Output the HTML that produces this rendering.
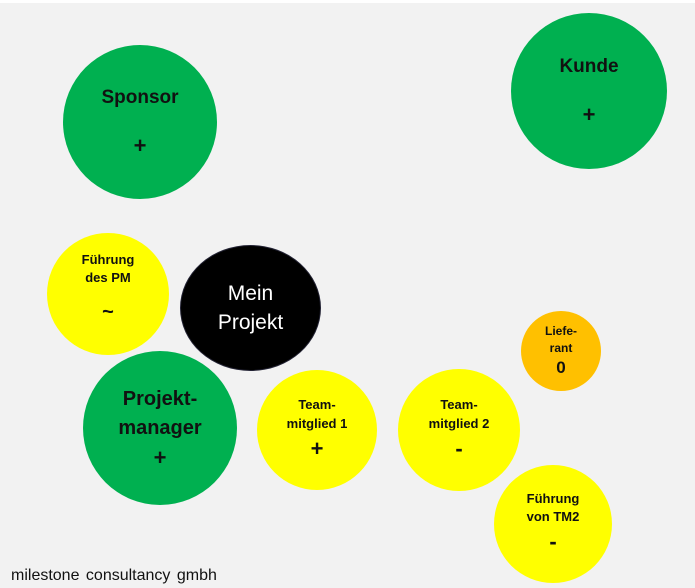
<!DOCTYPE html><html><head><meta charset="utf-8"><style>
body{margin:0;width:695px;height:588px;background:#f2f2f2;overflow:hidden;position:relative;font-family:"Liberation Sans",sans-serif}
.c{position:absolute;border-radius:50%;display:flex;flex-direction:column;align-items:center;justify-content:center;text-align:center;font-weight:bold;color:#111}
.g{background:#00b050}.y{background:#ffff00}
.s{font-size:22px}
</style></head><body>
<div style="position:absolute;left:0;top:0;width:695px;height:3px;background:#fff"></div>
<div class="c g" style="left:63px;top:45px;width:154px;height:154px;font-size:19px;line-height:48px">Sponsor<br><span class="s">+</span></div>
<div class="c g" style="left:511px;top:13px;width:156px;height:156px;font-size:19px;line-height:48px">Kunde<br><span class="s">+</span></div>
<div class="c y" style="left:47px;top:233px;width:122px;height:122px;font-size:13px;line-height:18px;">Führung<br>des PM<br><span style="font-size:20px;line-height:50px">~</span></div>
<div class="c" style="left:180px;top:245px;width:141px;height:126px;background:#000;border:1px solid #223;box-sizing:border-box;color:#fff;font-weight:normal;font-size:21px;line-height:29px">Mein<br>Projekt</div>
<div class="c g" style="left:83px;top:351px;width:154px;height:154px;font-size:20px;line-height:29px">Projekt-<br>manager<br><span class="s">+</span></div>
<div class="c y" style="left:257px;top:370px;width:120px;height:120px;font-size:13px;line-height:19px">Team-<br>mitglied 1<br><span class="s" style="line-height:32px">+</span></div>
<div class="c y" style="left:398px;top:369px;width:122px;height:122px;font-size:13px;line-height:19px">Team-<br>mitglied 2<br><span class="s" style="line-height:32px">-</span></div>
<div class="c" style="left:521px;top:311px;width:80px;height:80px;background:#ffc000;font-size:12px;line-height:17px">Liefe-<br>rant<br><span style="font-size:17px;line-height:22px">0</span></div>
<div class="c y" style="left:494px;top:465px;width:118px;height:118px;font-size:13px;line-height:18px">Führung<br>von TM2<br><span class="s" style="line-height:32px">-</span></div>
<div style="position:absolute;left:11px;top:567px;font-size:16px;color:#111;word-spacing:2px">milestone consultancy gmbh</div>
</body></html>
